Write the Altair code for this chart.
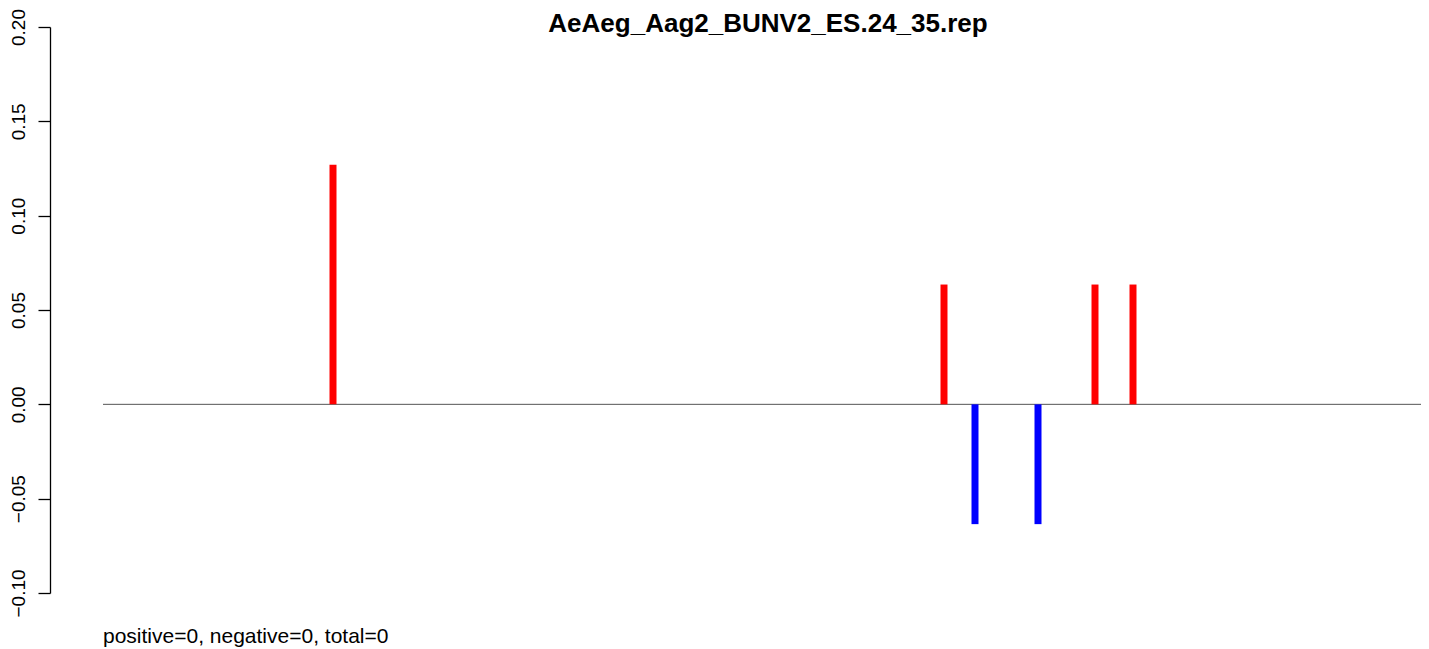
import altair as alt
import pandas as pd

# ---- data ----
positions = [283, 894, 925, 988, 1045, 1083]
values = [0.127, 0.0635, -0.0635, -0.0635, 0.0635, 0.0635]
strand = ["positive", "positive", "negative", "negative", "positive", "positive"]
y_ticks = [-0.10, -0.05, 0.00, 0.05, 0.10, 0.15, 0.20]
baseline_start = [53]
baseline_end = [1371]
title_text = "AeAeg_Aag2_BUNV2_ES.24_35.rep"
footer_text = "positive=0, negative=0, total=0"

FONT = "Liberation Sans"
W, H = 1371, 566

bars_df = pd.DataFrame({"pos": positions, "value": values, "strand": strand, "zero": [0.0] * len(values)})
base_df = pd.DataFrame({"start": baseline_start, "end": baseline_end, "zero": [0.0]})

xs = alt.Scale(domain=[0, W], nice=False, zero=False)
ys = alt.Scale(domain=[-0.10, 0.20], nice=False, zero=False)

zero_line = alt.Chart(base_df).mark_rule(color="#555555", strokeWidth=1).encode(
    x=alt.X("start:Q", scale=xs, axis=None),
    x2="end:Q",
    y=alt.Y("zero:Q", scale=ys,
            axis=alt.Axis(values=y_ticks, format=".2f", title=None, grid=False,
                          domainColor="black", domainWidth=1.3, tickColor="black",
                          tickWidth=1.3, tickSize=12, labelAngle=270,
                          labelAlign="center", labelBaseline="bottom",
                          labelPadding=10, labelFont=FONT, labelFontSize=19,
                          labelColor="black")),
)

bars = alt.Chart(bars_df).mark_rule(strokeWidth=7).encode(
    x=alt.X("pos:Q", scale=xs, axis=None),
    y=alt.Y("zero:Q", scale=ys),
    y2="value:Q",
    color=alt.Color("strand:N", scale=alt.Scale(domain=["positive", "negative"], range=["#ff0000", "#0000ff"]), legend=None),
)

title = alt.Chart(pd.DataFrame({"t": [title_text]})).mark_text(
    font=FONT, fontSize=26, fontWeight="bold", align="center", baseline="alphabetic", color="black"
).encode(text="t:N", x=alt.value(718), y=alt.value(5))

footer = alt.Chart(pd.DataFrame({"t": [footer_text]})).mark_text(
    font=FONT, fontSize=21, align="left", baseline="alphabetic", color="black"
).encode(text="t:N", x=alt.value(53), y=alt.value(616))

chart = alt.layer(zero_line, bars, title, footer).properties(
    width=W, height=H,
    padding={"left": 42, "top": 19, "right": 0, "bottom": 56},
    autosize=alt.AutoSizeParams(type="none"),
).configure_view(stroke=None)

chart.save("out.html", embed_options={"renderer": "svg", "actions": False})
